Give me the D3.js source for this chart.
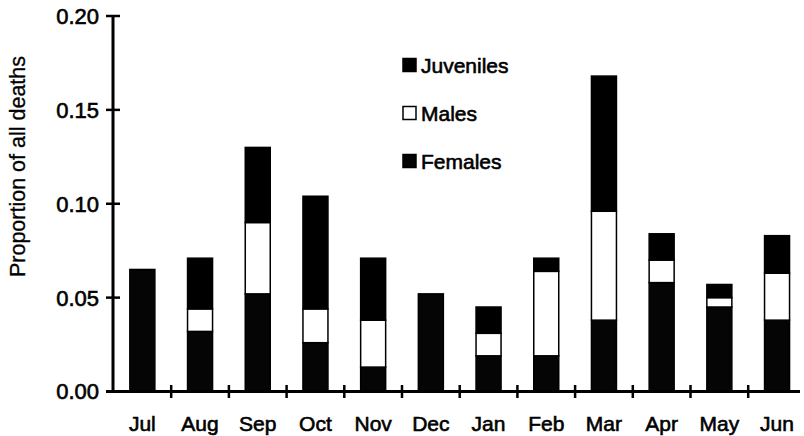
<!DOCTYPE html>
<html><head><meta charset="utf-8">
<script src="https://cdn.jsdelivr.net/npm/d3@7"></script>
<style>body{margin:0;background:#fff}svg{display:block}text{font-family:"Liberation Sans",Arial,sans-serif;fill:#000}</style>
</head><body>
<script>
const months = ["Jul","Aug","Sep","Oct","Nov","Dec","Jan","Feb","Mar","Apr","May","Jun"];
const females   = [0.065,0.032,0.052,0.026,0.013,0.052,0.019,0.019,0.038,0.058,0.045,0.038];
const males     = [0.000,0.012,0.038,0.018,0.025,0.000,0.012,0.045,0.058,0.012,0.005,0.025];
const juveniles = [0.000,0.027,0.040,0.060,0.033,0.000,0.014,0.007,0.072,0.014,0.007,0.020];
const yTicks = [0, 0.05, 0.10, 0.15, 0.20];
const seriesNames = ["Females","Males","Juveniles"];
const legendOrder = ["Juveniles","Males","Females"];
const colors = {Females:"#050505", Males:"#ffffff", Juveniles:"#000000"};

const W = 804, H = 436;
const svg = d3.select("body").append("svg").attr("width", W).attr("height", H);

const x0 = 113, yBase = 391.5;
const x = d3.scaleBand().domain(months).range([113.5, 113.5 + 12*57.7]).padding(0);
const y = d3.scaleLinear().domain([0, 0.20]).range([yBase, 16]);

const rows = months.map((m,i)=>({month:m, Females:females[i], Males:males[i], Juveniles:juveniles[i]}));
const stack = d3.stack().keys(seriesNames)(rows);

const bw = 25;
const g = svg.append("g");
stack.forEach(layer => {
  g.selectAll(null).data(layer.filter(d => d[1] - d[0] > 0)).enter().append("rect")
    .attr("x", d => x(d.data.month) + x.bandwidth()/2 - bw/2)
    .attr("width", bw)
    .attr("y", d => y(d[1]))
    .attr("height", d => y(d[0]) - y(d[1]))
    .attr("fill", colors[layer.key])
    .attr("stroke", "#000").attr("stroke-width", 1.5);
});

// Y axis
svg.append("line").attr("x1", x0).attr("x2", x0).attr("y1", y(0.20)).attr("y2", yBase+1.5)
  .attr("stroke","#000").attr("stroke-width",3);
const yt = svg.append("g").selectAll("g").data(yTicks).enter().append("g");
yt.append("line").attr("x1", x0-7).attr("x2", x0+7).attr("y1", d=>y(d)).attr("y2", d=>y(d))
  .attr("stroke","#000").attr("stroke-width",2.5);
yt.append("text").attr("x", x0-14).attr("y", d=>y(d)).attr("dy","0.36em")
  .attr("text-anchor","end").attr("font-size",22).attr("stroke","#000").attr("stroke-width",0.6)
  .text(d=>d3.format(".2f")(d));

// X axis
svg.append("line").attr("x1", x0-7).attr("x2", 800).attr("y1", yBase).attr("y2", yBase)
  .attr("stroke","#000").attr("stroke-width",3);
const xt = months.slice(1).map(m => x(m));
svg.append("g").selectAll("line").data(xt).enter().append("line")
  .attr("x1", d=>d).attr("x2", d=>d).attr("y1", yBase-6.5).attr("y2", yBase+6.5)
  .attr("stroke","#000").attr("stroke-width",2.5);
svg.append("g").selectAll("text").data(months).enter().append("text")
  .attr("x", d => x(d) + x.bandwidth()/2).attr("y", 431)
  .attr("text-anchor","middle").attr("font-size",21).attr("stroke","#000").attr("stroke-width",0.6)
  .text(d=>d);

// Y title
svg.append("text").attr("transform","translate(25,166.5) rotate(-90)")
  .attr("text-anchor","middle").attr("font-size",21.5).attr("stroke","#000").attr("stroke-width",0.3)
  .text("Proportion of all deaths");

// Legend
const leg = svg.append("g").selectAll("g").data(legendOrder).enter().append("g")
  .attr("transform",(d,i)=>`translate(403,${65 + i*48})`);
leg.append("rect").attr("x",0).attr("y",-6.5).attr("width",13).attr("height",13)
  .attr("fill", d=>colors[d]).attr("stroke","#000").attr("stroke-width",1.5);
leg.append("text").attr("x",18).attr("y",0).attr("dy","0.36em").attr("font-size",21)
  .attr("stroke","#000").attr("stroke-width",0.6).text(d=>d);
</script>
</body></html>
